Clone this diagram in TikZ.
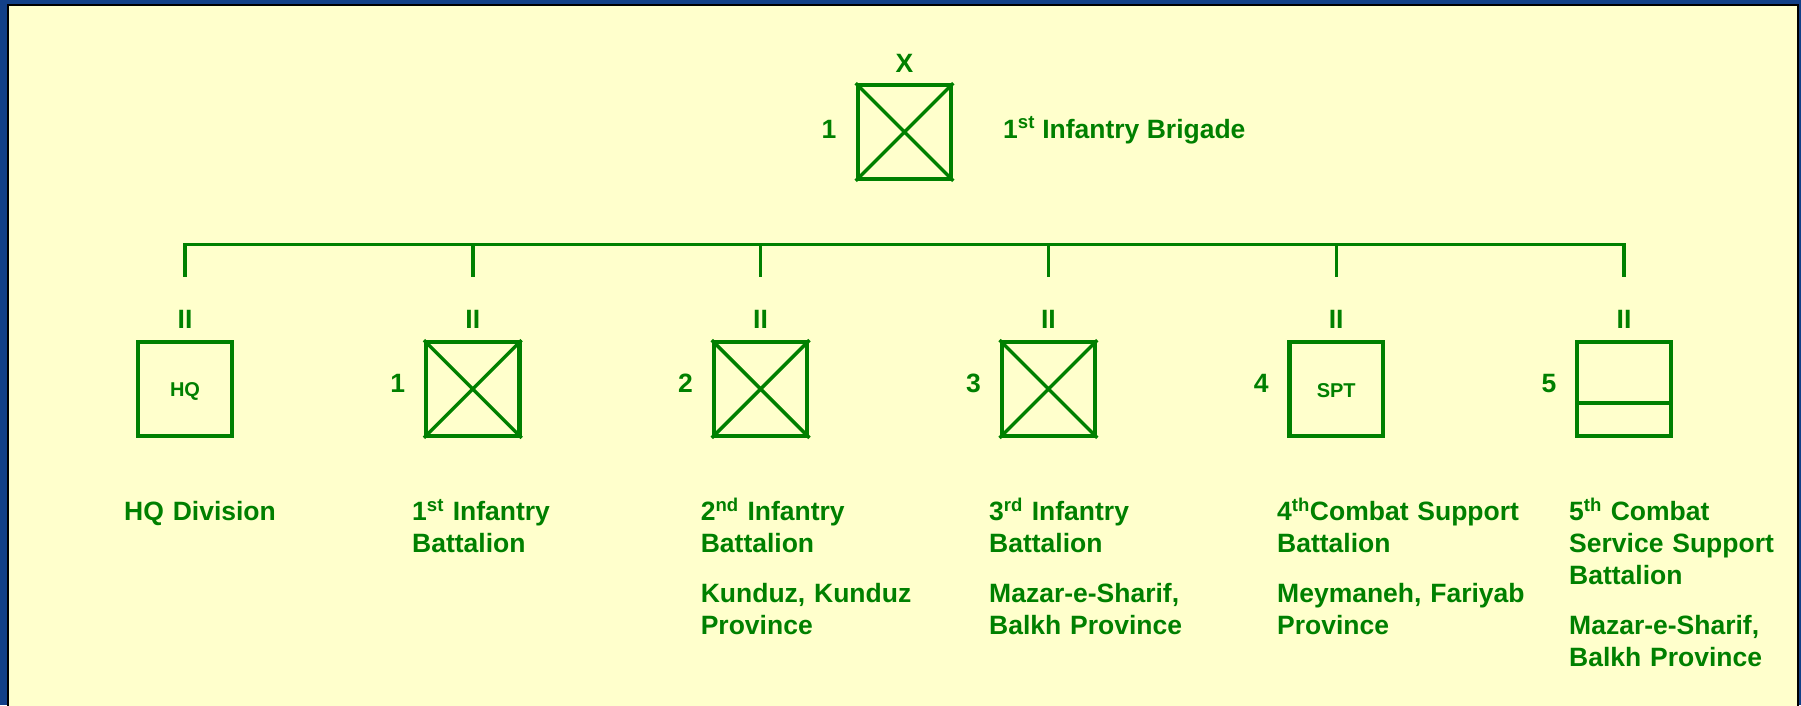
\documentclass[tikz,border=0pt]{standalone}
\usepackage{fontspec}
\setmainfont{Liberation Sans}
\usepackage{xcolor}
\definecolor{armygreen}{RGB}{0, 128, 0}
\definecolor{panelcream}{RGB}{255, 255, 204}
\definecolor{slideblue}{RGB}{18, 64, 136}
\usepackage{tikz}
\usetikzlibrary{
    positioning
}
\tikzstyle{unitbox} = [
    draw=armygreen,
    line width=4.2pt,
    minimum width=93.5pt,
    minimum height=93.5pt,
    inner sep=0pt
]
\tikzstyle{echelon} = [
    text=armygreen,
    font=\fontsize{26.5}{32}\selectfont\bfseries,
    inner sep=0pt,
    anchor=base
]
\tikzstyle{boxtag} = [
    text=armygreen,
    font=\fontsize{20}{24}\selectfont\bfseries,
    inner sep=0pt
]
\tikzstyle{unitname} = [
    echelon,
    anchor=base west,
    align=left,
    text width=250pt
]
\tikzstyle{branch} = [
    draw=armygreen,
    line width=3.4pt
]

\begin{document}
\begin{tikzpicture}[x=1pt, y=-1pt]

% Hintergrund
\fill[slideblue] (0,0) rectangle (1801,705);
\useasboundingbox (0,0) rectangle (1801,705);
\fill[panelcream] (8,5) rectangle (1798,708);
\draw[line width=1.5pt] (8,708) |- (1798,5) -- (1798,708);

% Brigade
\node[unitbox] (brigade) at (904.5,132) {};
\draw[branch] (brigade.north west) -- (brigade.south east)
    (brigade.north east) -- (brigade.south west);
\node[echelon] (brigade-size) at (904.5,72) {X};
\node[echelon] (brigade-nr) at (829,138.5) {1};
\node[echelon, anchor=base west] (brigade-name) at (1003,138) {1\textsuperscript{st} Infantry Brigade};

% Bataillone mit Groessenzeichen
\foreach \i in {0,...,5} {
    \coordinate (tap\i) at ({185+287.8*\i},244.5);
    \coordinate (drop\i) at ({185+287.8*\i},276.5);
    \node[unitbox] (bn\i) at ({185+287.8*\i},389) {};
    \node[echelon] (size\i) at ({185+287.8*\i},328.5) {II};
}

% Verbindungen
\draw[branch] (drop0) -- (tap0) -- (tap5) -- (drop5);
\foreach \i in {1,...,4}
    \draw[branch] (tap\i) -- (drop\i);

% Nummern links der Zeichen
\foreach \i in {1,...,5}
    \node[echelon] (nr\i) at ({185+287.8*\i-75},392) {\i};

% Truppenzeichen
\foreach \i in {1,2,3}
    \draw[branch] (bn\i.north west) -- (bn\i.south east)
        (bn\i.north east) -- (bn\i.south west);
\node[boxtag] (tag0) at ([yshift=-2pt]bn0.center) {HQ};
\node[boxtag] (tag4) at ([yshift=-2pt]bn4.center) {SPT};
\draw[branch, line width=4pt] ([yshift=-14pt]bn5.west) -- ([yshift=-14pt]bn5.east);

% Bezeichnungen unter den Zeichen
\newcommand{\bnlabel}[3]{
    \node[unitname] (#1) at (#2,520.5) {#3};
}

\bnlabel{name0}{124}{HQ Division};
\bnlabel{name1}{412}{1\textsuperscript{st} Infantry\\Battalion};
\bnlabel{name2}{700.6}{2\textsuperscript{nd} Infantry\\Battalion\\[18pt]Kunduz, Kunduz\\Province};
\bnlabel{name3}{989}{3\textsuperscript{rd} Infantry\\Battalion\\[18pt]Mazar-e-Sharif,\\Balkh Province};
\bnlabel{name4}{1277}{4\textsuperscript{th}Combat Support\\Battalion\\[18pt]Meymaneh, Fariyab\\Province};
\bnlabel{name5}{1569}{5\textsuperscript{th} Combat\\Service Support\\Battalion\\[18pt]Mazar-e-Sharif,\\Balkh Province};

\end{tikzpicture}
\end{document}
